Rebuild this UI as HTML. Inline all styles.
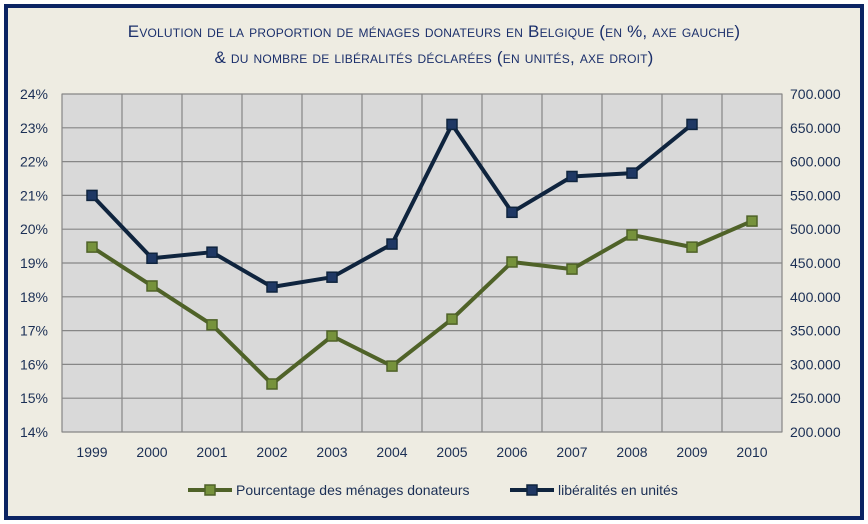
<!DOCTYPE html>
<html><head><meta charset="utf-8"><style>
body{margin:0;width:868px;height:524px;overflow:hidden;background:#fff;font-family:"Liberation Sans",sans-serif}
#frame{position:absolute;left:4px;top:4px;width:852px;height:508px;border:4px solid #0b2463;background:#eeece2}
.title{position:absolute;left:0;width:868px;text-align:center;color:#1b2f6b;font-size:17px;font-variant:small-caps;letter-spacing:0.2px}
</style></head><body>
<div id="frame"></div>
<div class="title" style="top:22px">Evolution de la proportion de ménages donateurs en Belgique (en %, axe gauche)</div>
<div class="title" style="top:48px">&amp; du nombre de libéralités déclarées (en unités, axe droit)</div>
<svg id="chart" width="868" height="524" style="position:absolute;left:0;top:0"></svg>
<script>
const years=['1999','2000','2001','2002','2003','2004','2005','2006','2007','2008','2009','2010'];
const pctValues=[19.47,18.32,17.17,15.42,16.84,15.95,17.34,19.03,18.82,19.83,19.47,20.24];
const libValues=[550000,457000,466000,414500,429000,478000,655000,525000,578000,583000,655000,null];
const leftTicks=[14,15,16,17,18,19,20,21,22,23,24];
const rightTicks=[200000,250000,300000,350000,400000,450000,500000,550000,600000,650000,700000];
const L=62,R=782,T=94,B=432;
const svg=document.getElementById('chart');
const NS='http://www.w3.org/2000/svg';
function mk(tag,attrs,parent){const e=document.createElementNS(NS,tag);for(const k in attrs)e.setAttribute(k,attrs[k]);(parent||svg).appendChild(e);return e;}
const band=(R-L)/years.length;
const x=i=>L+band*(i+0.5);
const yL=v=>B-(v-14)/10*(B-T);
const yR=v=>B-(v-200000)/500000*(B-T);
const plot=mk('rect',{x:L,y:T,width:R-L,height:B-T,fill:'#d9d9d9',stroke:'#868686'});


leftTicks.forEach(t=>{
  const g=mk('line',{x1:L,x2:R,y1:yL(t),y2:yL(t),stroke:'#868686','stroke-width':1.2});
  
  
  const tx=mk('text',{x:48,y:yL(t)+5,'text-anchor':'end','font-size':14,fill:'#1b2f55'});
  tx.textContent=t+'%';
  
  
});
rightTicks.forEach(t=>{
  const tx=mk('text',{x:790,y:yR(t)+5,'font-size':14,fill:'#1b2f55'});
  tx.textContent=t.toLocaleString('en-US').replace(/,/g,'.').replace(/^(\d+)$/,'$1');
  if(t<1000)tx.textContent=String(t);
  
  
});
for(let i=0;i<=years.length;i++){
  const g=mk('line',{x1:L+band*i,x2:L+band*i,y1:T,y2:B,stroke:'#868686','stroke-width':1.2});
  
  
}
years.forEach((yr,i)=>{
  const tx=mk('text',{x:x(i),y:457,'text-anchor':'middle','font-size':14,fill:'#1b2f55'});
  tx.textContent=yr;
  
  
});
function series(vals,yf,color,mfill,name){
  const pts=[];vals.forEach((v,i)=>{if(v!=null)pts.push([x(i),yf(v)]);});
  const pl=mk('polyline',{points:pts.map(p=>p.join(',')).join(' '),fill:'none',stroke:color,'stroke-width':4,'stroke-linejoin':'round'});
  
  
  pts.forEach(p=>{
    const m=mk('rect',{x:p[0]-5,y:p[1]-5,width:10,height:10,fill:mfill,stroke:color,'stroke-width':1.5});
    
    
  });
}
series(pctValues,yL,'#4f6228','#76923c','pct-series');
series(libValues,yR,'#0f243e','#1f3864','lib-series');
function legend(x0,color,mfill,label,name){
  const l=mk('line',{x1:x0,x2:x0+44,y1:490,y2:490,stroke:color,'stroke-width':4});
  
  
  const m=mk('rect',{x:x0+17,y:485,width:10,height:10,fill:mfill,stroke:color,'stroke-width':1.5});
  
  
  const t=mk('text',{x:x0+48,y:495,'font-size':14,fill:'#1b2f55'});
  t.textContent=label;
  
  
}
legend(188,'#4f6228','#76923c','Pourcentage des ménages donateurs','legend-pct');
legend(510,'#0f243e','#1f3864','libéralités en unités','legend-lib');
</script>
</body></html>
